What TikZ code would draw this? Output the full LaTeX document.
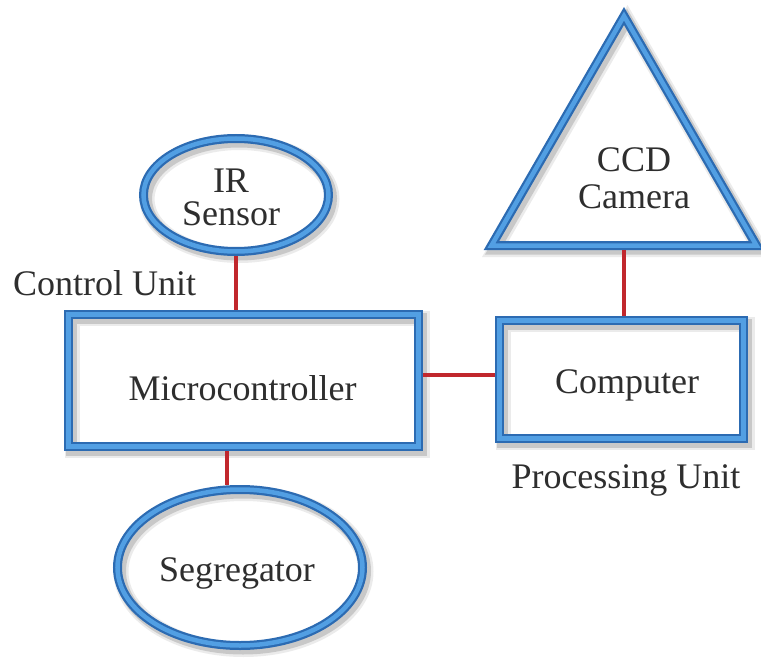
\documentclass[tikz,border=0pt]{standalone}
\usepackage{fontspec}
\setmainfont{Liberation Serif}
\usetikzlibrary{shapes.geometric}
\definecolor{frameblue}{HTML}{2C6BB2}
\definecolor{framelight}{HTML}{529FE3}
\definecolor{linkred}{HTML}{C1272D}
\definecolor{inkgray}{HTML}{2E2E2E}
\tikzset{
  framed/.style={draw=frameblue, line width=9pt, inner sep=0pt,
    preaction={draw=black, draw opacity=0.08, line width=15pt,
      transform canvas={shift={(3.5pt,-4pt)}}},
    preaction={draw=black, draw opacity=0.15, line width=11pt,
      transform canvas={shift={(3pt,-3.5pt)}}},
    postaction={draw=framelight, line width=4.5pt}},
  link/.style={draw=linkred, line width=3.5pt},
  caption/.style={text=inkgray, inner sep=0pt},
}
\begin{document}
\begin{tikzpicture}[x=1pt, y=-1pt, font=\fontsize{36}{36}\selectfont]
  \useasboundingbox (0,0) rectangle (761,661);

  % block outlines
  \node[framed, ellipse, minimum width=185pt, minimum height=113pt]
    (ir) at (236,195) {};
  \node[framed, rectangle, minimum width=350pt, minimum height=132pt]
    (micro) at (243.5,380.5) {};
  \node[framed, rectangle, minimum width=244pt, minimum height=118pt]
    (comp) at (621.5,379.5) {};
  \node[framed, regular polygon, regular polygon sides=3, minimum size=306pt]
    (cam) at (624,169) {};
  \node[framed, ellipse, minimum width=245pt, minimum height=156pt]
    (seg) at (240,567.5) {};

  % block texts
  \node[caption, anchor=base] (irtext) at (231,192) {IR};
  \node[caption, anchor=base] (sensortext) at (231,225) {Sensor};
  \node[caption, anchor=base] (microtext) at (242.5,400) {Microcontroller};
  \node[caption, anchor=base] (comptext) at (627,393) {Computer};
  \node[caption, anchor=base] (ccdtext) at (634,171) {CCD};
  \node[caption, anchor=base] (camtext) at (634,208) {Camera};
  \node[caption, anchor=base] (segtext) at (237,581) {Segregator};

  % group captions
  \node[caption, anchor=base west] (ctrl) at (13,295) {Control Unit};
  \node[caption, anchor=base] (proc) at (626,488) {Processing Unit};

  % connectors
  \draw[link] (ir.south) -- (ir.south |- micro.north);
  \draw[link] ([xshift=-13pt]seg.north) -- ([xshift=-13pt]seg.north |- micro.south);
  \draw[link] (micro.east |- 0,375) -- (comp.west |- 0,375);
  \draw[link] (cam.south) -- (cam.south |- comp.north);
\end{tikzpicture}
\end{document}
